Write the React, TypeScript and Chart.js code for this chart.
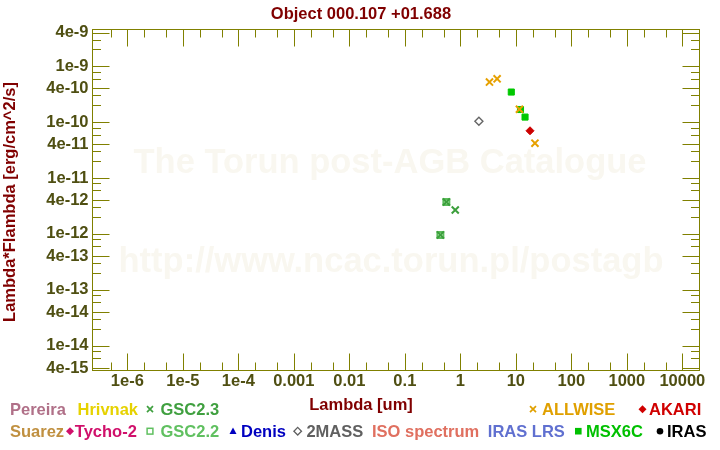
import React, { useEffect, useRef } from "react";
import { Chart, registerables } from "chart.js";

Chart.register(...registerables);

const FONT = '"Liberation Sans", Arimo, Arial, Helvetica, sans-serif';

// ---------- text ----------
const TITLE = "Object 000.107 +01.688";
const X_TITLE = "Lambda [um]";
const Y_TITLE = "Lambda*Flambda [erg/cm^2/s]";
const WATERMARK_LINES = ["The Torun post-AGB Catalogue", "http://www.ncac.torun.pl/postagb"];

// ---------- axes ----------
const X_MIN = 2.31e-7;
const X_MAX = 2.08e4;
const Y_MIN = 3.53e-15;
const Y_MAX = 4.63e-9;

const xTickValues = [1e-6, 1e-5, 1e-4, 1e-3, 1e-2, 0.1, 1, 10, 100, 1000, 10000];
const xTickLabels = ["1e-6", "1e-5", "1e-4", "0.001", "0.01", "0.1", "1", "10", "100", "1000", "10000"];
const yTickValues = [4e-9, 1e-9, 4e-10, 1e-10, 4e-11, 1e-11, 4e-12, 1e-12, 4e-13, 1e-13, 4e-14, 1e-14, 4e-15];
const yTickLabels = ["4e-9", "1e-9", "4e-10", "1e-10", "4e-11", "1e-11", "4e-12", "1e-12", "4e-13", "1e-13", "4e-14", "1e-14", "4e-15"];
const xMinorMantissas = [2, 5];
const yMinorMantissas = [2, 3, 6, 8];
const yMajorMantissas = [1, 4];

// ---------- data (wavelength in um, lambda*F_lambda in erg/cm^2/s) ----------
const allwiseLambda = [3.35, 4.6, 11.6, 22.1];
const allwiseFlux = [5.2e-10, 5.95e-10, 1.7e-10, 4.2e-11];
const msxLambda = [8.28, 12.13, 14.65];
const msxFlux = [3.45e-10, 1.68e-10, 1.23e-10];
const twomassLambda = [2.16];
const twomassFlux = [1.04e-10];
const akariLambda = [18.0];
const akariFlux = [7.0e-11];
const gsc23Lambda = [0.437, 0.56, 0.81];
const gsc23Flux = [9.6e-13, 3.73e-12, 2.68e-12];
const gsc22Lambda = [0.437, 0.56];
const gsc22Flux = [9.6e-13, 3.73e-12];

// ---------- colours ----------
const C_TITLE = "#800000";
const C_AXIS = "#808000";
const C_TICKLABEL = "#4f4f12";
const C_WATERMARK = "#f9f7f0";
const C_ALLWISE = "#e6a000";
const C_MSX = "#00c800";
const C_2MASS = "#666666";
const C_AKARI = "#cc0000";
const C_GSC23 = "#3c9f3c";
const C_GSC22 = "#5cbc5c";

// ---------- legend ----------
const legendRow1Names = ["Pereira", "Hrivnak", "GSC2.3", "ALLWISE", "AKARI"];
const legendRow1Colors = ["#b07088", "#e6d200", "#40a040", "#e0a000", "#d00000"];
const legendRow1Markers = ["none", "none", "cross", "cross", "diamond"];
const legendRow2Names = ["Suarez", "Tycho-2", "GSC2.2", "Denis", "2MASS", "ISO spectrum", "IRAS LRS", "MSX6C", "IRAS"];
const legendRow2Colors = ["#c09040", "#d0106b", "#60c060", "#0000c0", "#606060", "#e07060", "#6070d0", "#00c000", "#000000"];
const legendRow2Markers = ["none", "diamond", "openSquare", "triangle", "openDiamond", "none", "none", "square", "circle"];

// legend layout (pixels)
const LEGEND_ROW1_BASE = 415;
const LEGEND_ROW2_BASE = 437;
const legendRow1TextX = [10, 77.5, 160.5, 542, 649];
const legendRow1MarkerX = [0, 0, 150, 533, 642.5];
const legendRow2TextX = [10, 74.8, 160.5, 241, 306.4, 372, 487.8, 586, 667];
const legendRow2MarkerX = [0, 70, 150, 233, 297.7, 0, 0, 578.3, 660];

const FS = 16.5;

function drawMarker(ctx: CanvasRenderingContext2D, kind: string, x: number, y: number, color: string) {
  ctx.save();
  ctx.fillStyle = color;
  ctx.strokeStyle = color;
  ctx.beginPath();
  if (kind === "cross") {
    ctx.lineWidth = 1.7;
    const r = 3;
    ctx.moveTo(x - r, y - r);
    ctx.lineTo(x + r, y + r);
    ctx.moveTo(x + r, y - r);
    ctx.lineTo(x - r, y + r);
    ctx.stroke();
  } else if (kind === "diamond") {
    const r = 4;
    ctx.moveTo(x, y - r);
    ctx.lineTo(x + r, y);
    ctx.lineTo(x, y + r);
    ctx.lineTo(x - r, y);
    ctx.closePath();
    ctx.fill();
  } else if (kind === "openDiamond") {
    ctx.lineWidth = 1.3;
    const r = 3.8;
    ctx.moveTo(x, y - r);
    ctx.lineTo(x + r, y);
    ctx.lineTo(x, y + r);
    ctx.lineTo(x - r, y);
    ctx.closePath();
    ctx.stroke();
  } else if (kind === "openSquare") {
    ctx.lineWidth = 1.5;
    ctx.strokeRect(x - 2.9, y - 2.9, 5.8, 5.8);
  } else if (kind === "square") {
    ctx.fillRect(x - 3.3, y - 3.3, 6.6, 6.6);
  } else if (kind === "triangle") {
    ctx.moveTo(x, y - 3.8);
    ctx.lineTo(x + 3.5, y + 2.8);
    ctx.lineTo(x - 3.5, y + 2.8);
    ctx.closePath();
    ctx.fill();
  } else if (kind === "circle") {
    ctx.arc(x, y, 3.3, 0, Math.PI * 2);
    ctx.fill();
  }
  ctx.restore();
}

const decorPlugin = {
  id: "decor",
  beforeDatasetsDraw(chart: any) {
    const { ctx } = chart;
    ctx.save();
    ctx.fillStyle = C_WATERMARK;
    ctx.font = `bold 34.5px ${FONT}`;
    ctx.textAlign = "center";
    ctx.textBaseline = "middle";
    ctx.fillText(WATERMARK_LINES[0], 390, 163);
    ctx.fillText(WATERMARK_LINES[1], 391, 262);
    ctx.restore();
  },
  afterDatasetsDraw(chart: any) {
    const { ctx, chartArea: a, scales } = chart;
    const xs = scales.x;
    const ys = scales.y;
    ctx.save();
    ctx.strokeStyle = C_AXIS;
    ctx.lineWidth = 1;
    ctx.strokeRect(a.left + 0.5, a.top + 0.5, a.right - a.left - 1, a.bottom - a.top - 1);
    ctx.beginPath();
    for (let e = -8; e <= 5; e++) {
      const list = [1, ...xMinorMantissas];
      for (const m of list) {
        const v = m * Math.pow(10, e);
        if (v <= X_MIN || v >= X_MAX) continue;
        const len = m === 1 ? 17.5 : 8.5;
        const px = Math.round(xs.getPixelForValue(v)) + 0.5;
        ctx.moveTo(px, a.bottom);
        ctx.lineTo(px, a.bottom - len);
        ctx.moveTo(px, a.top);
        ctx.lineTo(px, a.top + len);
      }
    }
    for (let e = -16; e <= -7; e++) {
      const list = [1, 4, ...yMinorMantissas];
      for (const m of list) {
        const v = m * Math.pow(10, e);
        if (v <= Y_MIN || v >= Y_MAX) continue;
        const len = yMajorMantissas.includes(m) ? 17.5 : 9;
        const py = Math.round(ys.getPixelForValue(v)) + 0.5;
        ctx.moveTo(a.left, py);
        ctx.lineTo(a.left + len, py);
        ctx.moveTo(a.right, py);
        ctx.lineTo(a.right - len, py);
      }
    }
    ctx.stroke();
    ctx.restore();
  },
  afterDraw(chart: any) {
    const { ctx } = chart;
    ctx.save();
    ctx.fillStyle = C_TITLE;
    ctx.font = `bold ${FS}px ${FONT}`;
    ctx.textAlign = "center";
    ctx.textBaseline = "alphabetic";
    ctx.fillText(TITLE, 361, 18.5);
    ctx.fillText(X_TITLE, 361, 410);
    ctx.save();
    ctx.translate(15, 202);
    ctx.rotate(-Math.PI / 2);
    ctx.fillText(Y_TITLE, 0, 0);
    ctx.restore();
    ctx.textAlign = "left";
    const rows = [
      [legendRow1Names, legendRow1Colors, legendRow1Markers, legendRow1TextX, legendRow1MarkerX, LEGEND_ROW1_BASE],
      [legendRow2Names, legendRow2Colors, legendRow2Markers, legendRow2TextX, legendRow2MarkerX, LEGEND_ROW2_BASE],
    ] as any[];
    for (const [names, colors, markers, tx, mx, base] of rows) {
      for (let i = 0; i < names.length; i++) {
        ctx.fillStyle = colors[i];
        ctx.fillText(names[i], tx[i], base);
        if (markers[i] !== "none") drawMarker(ctx, markers[i], mx[i], base - 5.8, colors[i]);
      }
    }
    ctx.restore();
  },
};

function pts(xs: number[], ys: number[]) {
  return xs.map((x, i) => ({ x, y: ys[i] }));
}

export default function App() {
  const ref = useRef<HTMLCanvasElement | null>(null);
  useEffect(() => {
    document.body.style.margin = "0";
    const canvas = ref.current!;
    const chart = new Chart(canvas, {
      type: "scatter",
      data: {
        datasets: [
          {
            label: "GSC2.3",
            data: pts(gsc23Lambda, gsc23Flux),
            pointStyle: "crossRot",
            pointRadius: 5,
            borderWidth: 2,
            borderColor: C_GSC23,
            backgroundColor: C_GSC23,
          },
          {
            label: "GSC2.2",
            data: pts(gsc22Lambda, gsc22Flux),
            pointStyle: "rect",
            pointRadius: 4.2,
            borderWidth: 2,
            borderColor: C_GSC22,
            backgroundColor: "rgba(0,0,0,0)",
          },
          {
            label: "ALLWISE",
            data: pts(allwiseLambda, allwiseFlux),
            pointStyle: "crossRot",
            pointRadius: 5,
            borderWidth: 2,
            borderColor: C_ALLWISE,
            backgroundColor: C_ALLWISE,
          },
          {
            label: "AKARI",
            data: pts(akariLambda, akariFlux),
            pointStyle: "rectRot",
            pointRadius: 4,
            borderWidth: 1,
            borderColor: C_AKARI,
            backgroundColor: C_AKARI,
          },
          {
            label: "MSX6C",
            data: pts(msxLambda, msxFlux),
            pointStyle: "rect",
            pointRadius: 4.3,
            borderWidth: 1,
            borderColor: C_MSX,
            backgroundColor: C_MSX,
          },
          {
            label: "2MASS",
            data: pts(twomassLambda, twomassFlux),
            pointStyle: "rectRot",
            pointRadius: 4,
            borderWidth: 1.4,
            borderColor: C_2MASS,
            backgroundColor: "rgba(0,0,0,0)",
          },
        ],
      },
      options: {
        responsive: false,
        animation: false,
        devicePixelRatio: 1,
        events: [],
        layout: { padding: { top: 29, right: 20, left: 0, bottom: 0 } },
        plugins: {
          legend: { display: false },
          title: { display: false },
          tooltip: { enabled: false },
        },
        scales: {
          x: {
            type: "logarithmic",
            position: "bottom",
            min: X_MIN,
            max: X_MAX,
            grid: { display: false, drawTicks: false },
            border: { display: false },
            ticks: {
              autoSkip: false,
              maxRotation: 0,
              minRotation: 0,
              padding: 1,
              color: C_TICKLABEL,
              font: { family: FONT, size: FS, weight: "bold" },
              callback: (v: any) => {
                const i = xTickValues.findIndex((t) => Math.abs(t - v) / t < 1e-6);
                return i >= 0 ? xTickLabels[i] : "";
              },
            },
            afterBuildTicks: (s: any) => {
              s.ticks = xTickValues.map((v) => ({ value: v }));
            },
            afterFit: (s: any) => {
              s.height = 79;
            },
          },
          y: {
            type: "logarithmic",
            position: "left",
            min: Y_MIN,
            max: Y_MAX,
            grid: { display: false, drawTicks: false },
            border: { display: false },
            ticks: {
              autoSkip: false,
              padding: 3.5,
              color: C_TICKLABEL,
              font: { family: FONT, size: FS, weight: "bold" },
              callback: (v: any) => {
                const i = yTickValues.findIndex((t) => Math.abs(t - v) / t < 1e-6);
                return i >= 0 ? yTickLabels[i] : "";
              },
            },
            afterBuildTicks: (s: any) => {
              s.ticks = yTickValues.map((v) => ({ value: v }));
            },
            afterFit: (s: any) => {
              s.width = 92;
            },
          },
        },
      },
      plugins: [decorPlugin],
    } as any);
    return () => chart.destroy();
  }, []);
  return (
    <div style={{ position: "absolute", left: 0, top: 0, width: 720, height: 450, background: "#fff" }}>
      <canvas ref={ref} width={720} height={450} style={{ display: "block", width: 720, height: 450 }} />
    </div>
  );
}
